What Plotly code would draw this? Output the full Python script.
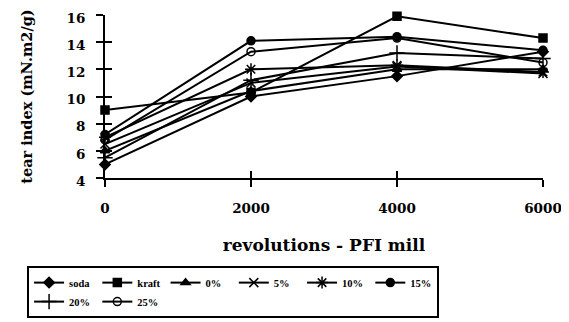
import plotly.graph_objects as go

revolutions = [0, 2000, 4000, 6000]
x_tick_labels = ["0", "2000", "4000", "6000"]
y_tick_values = [4, 6, 8, 10, 12, 14, 16]

series_names = ["soda", "kraft", "0%", "5%", "10%", "15%", "20%", "25%"]
soda = [5.0, 10.0, 11.5, 13.3]
kraft = [9.0, 10.3, 15.9, 14.3]
pct0 = [6.0, 10.4, 12.0, 12.0]
pct5 = [6.5, 11.0, 12.2, 11.7]
pct10 = [7.0, 12.0, 12.3, 11.8]
pct15 = [7.2, 14.1, 14.4, 13.4]
pct20 = [5.5, 11.2, 13.2, 12.8]
pct25 = [6.8, 13.3, 14.3, 12.5]

series_values = [soda, kraft, pct0, pct5, pct10, pct15, pct20, pct25]
symbols = ["diamond", "square", "triangle-up", "x-thin-open", "asterisk-open",
           "circle", "cross-thin-open", "circle-open"]
sizes = [8, 8, 8, 9, 10, 8, 11, 8]

FONT = "DejaVu Serif"
LEGEND_FONT = "Liberation Serif"

fig = go.Figure()
for name, vals, sym, sz in zip(series_names, series_values, symbols, sizes):
    fig.add_trace(go.Scatter(
        x=revolutions, y=vals, name=name, mode="lines+markers",
        line=dict(color="black", width=2),
        marker=dict(symbol=sym, size=sz, color="black",
                    line=dict(color="black", width=1.5)),
        cliponaxis=False,
    ))

# empty trace to activate overlay axes (used for crossing tick marks)
fig.add_trace(go.Scatter(x=[], y=[], xaxis="x2", yaxis="y2", showlegend=False,
                         hoverinfo="skip"))

# page body has an 8px margin, so the figure is sized to fill the window
fig.update_layout(
    width=561, height=314,
    margin=dict(l=97, r=26, t=7, b=144),
    paper_bgcolor="white", plot_bgcolor="white",
    font=dict(family=FONT, color="black", size=13),
    xaxis=dict(range=[0, 6000], tickvals=revolutions, ticktext=x_tick_labels,
               automargin=False,
               showgrid=False, zeroline=False, showline=True, linecolor="black",
               linewidth=1.5, ticks="outside", ticklen=7, tickwidth=1.5,
               tickcolor="black", ticklabelstandoff=10,
               tickfont=dict(family=FONT, size=13.5, weight="bold"),
               title=dict(text="<b>revolutions - PFI mill</b>",
                          font=dict(family=FONT, size=17), standoff=24)),
    yaxis=dict(range=[4, 16], tickvals=y_tick_values,
               automargin=False,
               showgrid=False, zeroline=False, showline=True, linecolor="black",
               linewidth=2, ticks="outside", ticklen=7, tickwidth=1.5,
               tickcolor="black", ticklabelstandoff=8,
               ticklabelshift=3, ticklabeloverflow="allow",
               tickfont=dict(family=FONT, size=13.5, weight="bold"),
               title=dict(text="<b>tear index (mN.m2/g)</b>",
                          font=dict(family=FONT, size=14.5), standoff=30)),
    xaxis2=dict(overlaying="x", anchor="y2", range=[0, 6000], tickvals=revolutions,
                automargin=False,
                showticklabels=False, showgrid=False, zeroline=False, showline=False,
                ticks="inside", ticklen=7, tickwidth=1.5, tickcolor="black"),
    yaxis2=dict(overlaying="y", anchor="x2", range=[4, 16], tickvals=y_tick_values,
                automargin=False,
                showticklabels=False, showgrid=False, zeroline=False, showline=False,
                ticks="inside", ticklen=7, tickwidth=1.5, tickcolor="black"),
    legend=dict(orientation="h", xref="container", yref="container",
                x=0.034, xanchor="left", y=0.178, yanchor="top",
                bordercolor="black", borderwidth=2, bgcolor="white",
                font=dict(family=LEGEND_FONT, size=10.5, weight="bold"),
                itemwidth=30, tracegroupgap=0),
    showlegend=True,
)

fig.write_html("out.html")
